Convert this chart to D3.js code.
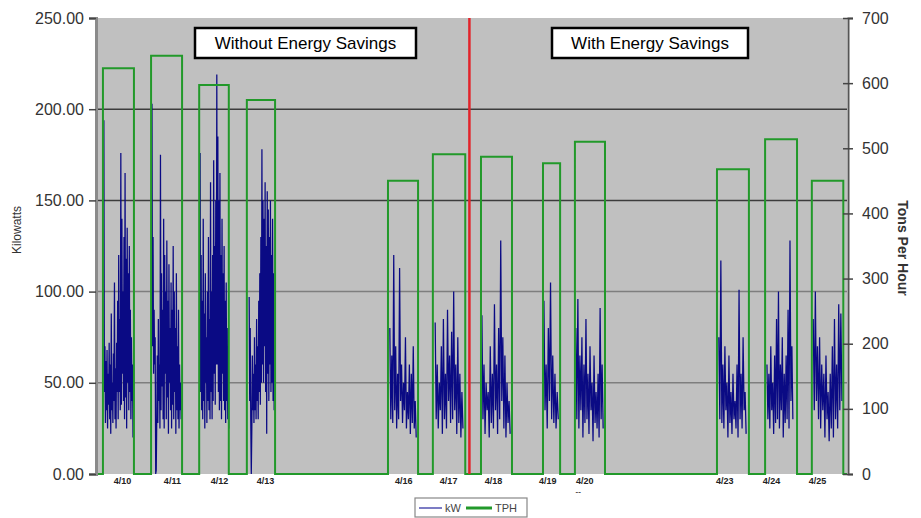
<!DOCTYPE html>
<html>
<head>
<meta charset="utf-8">
<script src="https://cdn.jsdelivr.net/npm/d3@7"></script>
<style>
  body { margin: 0; background: #fff; }
  svg { display: block; font-family: "Liberation Sans", Arial, sans-serif; }
</style>
</head>
<body>
<svg width="921" height="518"></svg>
<script>
// x positions are in "day of April" units
var tickDays = [10.00, 11.08, 12.10, 13.09, 16.08, 17.05, 18.02, 19.19, 19.99, 23.02, 24.03, 25.02];
var tickLabels = ["4/10", "4/11", "4/12", "4/13", "4/16", "4/17", "4/18", "4/19", "4/20", "4/23", "4/24", "4/25"];

// TPH pulses: start, end, tons per hour
var tphStart = [9.59, 10.63, 11.67, 12.70, 15.75, 16.72, 17.76, 19.10, 19.79, 22.86, 23.90, 24.91];
var tphEnd   = [10.26, 11.30, 12.31, 13.31, 16.40, 17.42, 18.43, 19.47, 20.44, 23.55, 24.59, 25.59];
var tphValue = [623, 642, 597, 574, 450, 491, 487, 477, 510, 468, 514, 450];

// kW runs (sampled evenly between start and end)
var kwStart = [9.61, 10.65, 11.69, 12.75, 15.79, 16.77, 17.78, 19.12, 19.81, 22.90, 23.94, 24.94];
var kwEnd   = [10.24, 11.28, 12.31, 13.29, 16.36, 17.37, 18.39, 19.43, 20.40, 23.49, 24.50, 25.56];
var kwRuns = [
  [194, 45, 70, 28, 62, 35, 68, 25, 55, 38, 72, 30, 60, 22, 88, 35, 50, 28, 66, 40, 105, 30, 58, 25, 72, 45, 95, 30, 120, 45, 85, 35, 176, 38, 140, 55, 100, 40, 130, 30, 165, 42, 118, 25, 135, 50, 110, 35, 125, 45, 90, 30, 75, 40, 60, 20],
  [203, 70, 130, 55, 90, 60, 75, 0, 2, 30, 65, 28, 85, 40, 60, 25, 175, 35, 110, 48, 90, 30, 140, 25, 120, 55, 100, 30, 128, 42, 95, 22, 115, 50, 80, 35, 105, 25, 90, 38, 125, 30, 100, 45, 80, 22, 110, 35, 70, 30, 90, 25, 60, 35, 50, 30],
  [176, 45, 120, 35, 95, 30, 140, 40, 88, 25, 110, 50, 75, 28, 100, 40, 130, 35, 85, 30, 160, 45, 100, 30, 120, 40, 172, 55, 125, 38, 150, 60, 219, 60, 185, 45, 150, 35, 165, 40, 120, 30, 140, 55, 110, 40, 125, 35, 95, 28, 105, 40, 80, 30, 70, 25],
  [97, 40, 80, 30, 0, 25, 65, 35, 55, 28, 75, 35, 60, 30, 85, 40, 70, 30, 95, 45, 110, 38, 130, 50, 178, 60, 150, 50, 140, 70, 160, 45, 125, 22, 155, 55, 145, 40, 130, 60, 150, 45, 120, 50, 140, 40, 110, 35],
  [80, 30, 65, 28, 120, 35, 70, 25, 55, 30, 113, 40, 60, 28, 50, 35, 75, 25, 45, 30, 60, 22, 55, 28, 70, 25, 40, 20],
  [83, 30, 60, 25, 50, 35, 70, 22, 85, 30, 55, 25, 90, 40, 65, 28, 78, 30, 100, 35, 60, 22, 75, 28, 55, 20, 45, 25],
  [87, 30, 60, 22, 50, 35, 45, 20, 70, 28, 55, 25, 93, 35, 60, 22, 80, 30, 128, 40, 75, 25, 65, 20, 50, 28, 40, 22],
  [95, 35, 60, 25, 80, 40, 105, 30, 65, 28, 55, 25, 45, 30],
  [80, 30, 96, 25, 65, 35, 75, 20, 60, 28, 85, 30, 55, 22, 70, 35, 50, 18, 65, 28, 45, 25, 55, 20, 91, 30, 60, 25],
  [75, 30, 117, 28, 60, 25, 70, 35, 50, 20, 65, 28, 45, 22, 55, 30, 40, 25, 60, 20, 101, 30, 55, 25, 75, 35, 45, 22],
  [60, 30, 55, 25, 70, 35, 50, 22, 65, 28, 85, 30, 100, 25, 60, 35, 75, 20, 55, 28, 65, 30, 90, 25, 128, 40, 70, 30],
  [85, 35, 100, 40, 70, 30, 75, 25, 60, 35, 55, 20, 65, 30, 45, 18, 55, 25, 70, 20, 85, 30, 60, 25, 93, 35, 88, 40]
];

var kwTicks = [0, 50, 100, 150, 200, 250];
var kwGrid = [50, 100, 150, 200];
var tphTicks = [0, 100, 200, 300, 400, 500, 600, 700];
var dividerDay = 17.51;

var svg = d3.select("svg");
var plotL = 96, plotR = 847, plotT = 18, plotB = 474;

var x = d3.scaleLinear().domain([9.44, 25.67]).range([plotL, plotR]);
var yL = d3.scaleLinear().domain([0, 250]).range([plotB, plotT]);
var yR = d3.scaleLinear().domain([0, 700]).range([plotB, plotT]);

// plot background
svg.append("rect")
  .attr("x", plotL).attr("y", plotT)
  .attr("width", plotR - plotL).attr("height", plotB - plotT)
  .attr("fill", "#c0c0c0");

// gridlines
svg.append("g").selectAll("line")
  .data(kwGrid).enter().append("line")
  .attr("x1", plotL).attr("x2", plotR)
  .attr("y1", function (d) { return yL(d); })
  .attr("y2", function (d) { return yL(d); })
  .attr("stroke", function (d) { return d >= 150 ? "#3c3c3c" : "#7e7e7e"; })
  .attr("stroke-width", 1.5);

// kW line, one path per run
var kwLine = d3.line()
  .x(function (d) { return x(d[0]); })
  .y(function (d) { return yL(d[1]); });

svg.append("g").selectAll("path")
  .data(kwRuns).enter().append("path")
  .attr("d", function (vals, i) {
    var n = vals.length;
    var pts = vals.map(function (v, j) {
      return [kwStart[i] + (kwEnd[i] - kwStart[i]) * j / (n - 1), v];
    });
    return kwLine(pts);
  })
  .attr("fill", "none")
  .attr("stroke", "#0a0a84")
  .attr("stroke-width", 1.25);

// TPH step line
var tphPts = [[x.domain()[0], 0]];
tphValue.forEach(function (v, i) {
  tphPts.push([tphStart[i], 0], [tphStart[i], v], [tphEnd[i], v], [tphEnd[i], 0]);
});
tphPts.push([x.domain()[1], 0]);

svg.append("path")
  .attr("d", d3.line()
    .x(function (d) { return x(d[0]); })
    .y(function (d) { return yR(d[1]); })(tphPts))
  .attr("fill", "none")
  .attr("stroke", "#22992a")
  .attr("stroke-width", 2);

// divider
svg.append("line")
  .attr("x1", x(dividerDay)).attr("x2", x(dividerDay))
  .attr("y1", plotT).attr("y2", plotB)
  .attr("stroke", "#e2232a")
  .attr("stroke-width", 2.5);

// left axis
var gL = svg.append("g")
  .attr("transform", "translate(" + plotL + ",0)")
  .call(d3.axisLeft(yL).tickValues(kwTicks).tickFormat(d3.format(".2f")).tickSize(7).tickPadding(5));
gL.select(".domain").attr("stroke", "#8a8a8a").attr("stroke-width", 3);
gL.selectAll(".tick line").attr("stroke", "#444").attr("stroke-width", 1.5);
gL.selectAll(".tick text").attr("font-size", 16).attr("fill", "#333")
  .attr("font-family", "Liberation Sans, Arial, sans-serif");

// right axis
var gR = svg.append("g")
  .attr("transform", "translate(" + (plotR + 1) + ",0)")
  .call(d3.axisRight(yR).tickValues(tphTicks).tickSize(5).tickPadding(9));
gR.select(".domain").attr("stroke", "#555").attr("stroke-width", 2);
gR.selectAll(".tick line").attr("x1", -5).attr("stroke", "#444").attr("stroke-width", 1.5);
gR.selectAll(".tick text").attr("font-size", 16).attr("fill", "#333")
  .attr("font-family", "Liberation Sans, Arial, sans-serif");

// bottom labels
var gB = svg.append("g")
  .attr("transform", "translate(0," + plotB + ")")
  .call(d3.axisBottom(x).tickValues(tickDays)
    .tickFormat(function (d, i) { return tickLabels[i]; })
    .tickSize(0).tickPadding(4));
gB.select(".domain").remove();
gB.selectAll(".tick text").attr("font-size", 9).attr("font-weight", "bold").attr("fill", "#222")
  .attr("font-family", "Liberation Sans, Arial, sans-serif");

svg.append("text")
  .attr("x", x(tickDays[8]) - 6).attr("y", 494)
  .attr("text-anchor", "middle")
  .attr("font-size", 8).attr("font-weight", "bold").attr("fill", "#444")
  .text("--");

// axis titles
svg.append("text")
  .attr("transform", "translate(21,230) rotate(-90)")
  .attr("text-anchor", "middle")
  .attr("font-size", 12).attr("fill", "#333")
  .text("Kilowatts");

svg.append("text")
  .attr("transform", "translate(898,248) rotate(90)")
  .attr("text-anchor", "middle")
  .attr("font-size", 14).attr("font-weight", "bold").attr("fill", "#333")
  .text("Tons Per Hour");

// annotation boxes
var notes = [
  { x: 195, w: 221, text: "Without Energy Savings" },
  { x: 552, w: 196, text: "With Energy Savings" }
];
var ng = svg.append("g").selectAll("g").data(notes).enter().append("g");
ng.append("rect")
  .attr("x", function (d) { return d.x; }).attr("y", 28)
  .attr("width", function (d) { return d.w; }).attr("height", 30)
  .attr("fill", "#fff").attr("stroke", "#000").attr("stroke-width", 2.5);
ng.append("text")
  .attr("x", function (d) { return d.x + d.w / 2; }).attr("y", 49)
  .attr("text-anchor", "middle")
  .attr("font-size", 17).attr("fill", "#000")
  .text(function (d) { return d.text; });

// legend
var lg = svg.append("g");
lg.append("rect")
  .attr("x", 415).attr("y", 498).attr("width", 112).attr("height", 19)
  .attr("fill", "#fff").attr("stroke", "#888").attr("stroke-width", 1.2);
lg.append("line").attr("x1", 419).attr("x2", 442).attr("y1", 508).attr("y2", 508)
  .attr("stroke", "#5050b0").attr("stroke-width", 1.5);
lg.append("text").attr("x", 445).attr("y", 512).attr("font-size", 11).attr("fill", "#444").text("kW");
lg.append("line").attr("x1", 466).attr("x2", 492).attr("y1", 508).attr("y2", 508)
  .attr("stroke", "#22992a").attr("stroke-width", 3);
lg.append("text").attr("x", 495).attr("y", 512).attr("font-size", 11).attr("fill", "#444").text("TPH");
</script>
</body>
</html>
